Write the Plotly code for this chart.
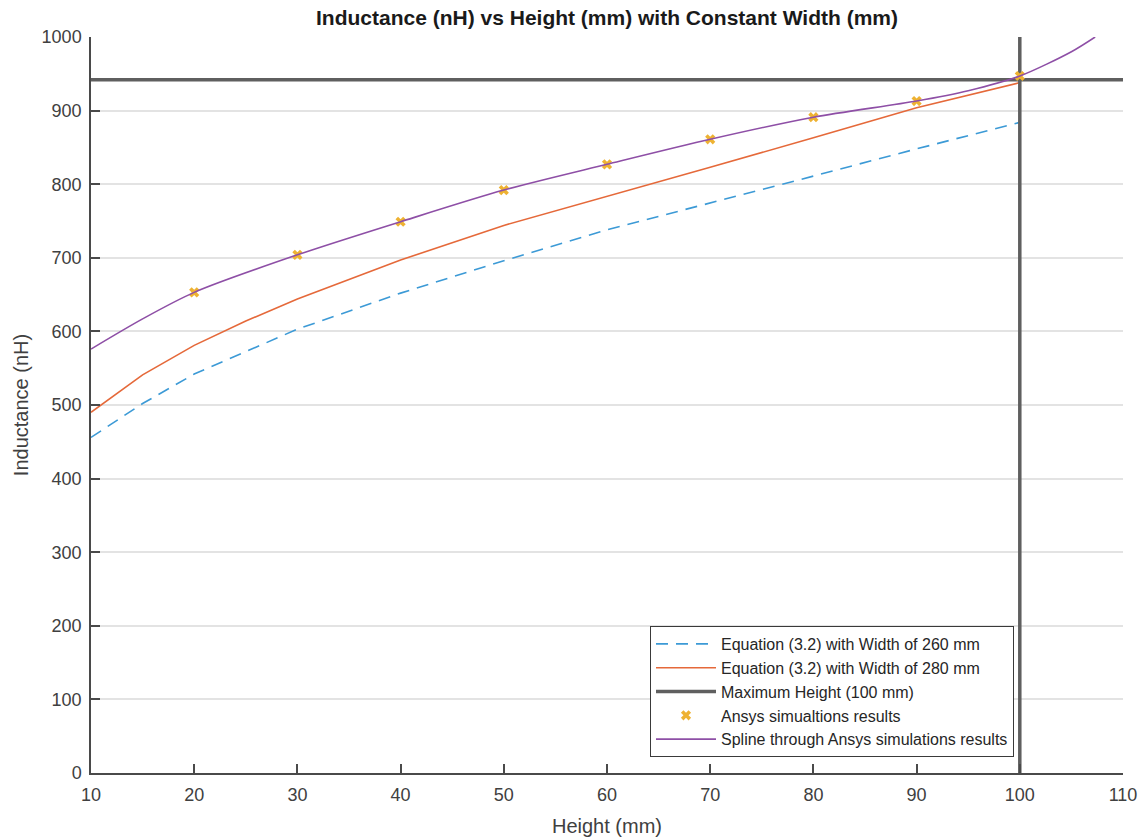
import plotly.graph_objects as go

# Height sweep used for the closed-form inductance curves (mm)
height_eq = [10, 15, 20, 25, 30, 40, 50, 60, 70, 80, 90, 100]
# Equation (3.2) inductance (nH) for two plate widths
L_w260 = [456, 502, 542, 573, 603, 652, 696, 738, 774, 811, 848, 884]
L_w280 = [490, 541, 581, 614, 644, 697, 744, 783, 823, 863, 904, 938]

# Ansys simulation results
height_sim = [20, 30, 40, 50, 60, 70, 80, 90, 100]
L_sim = [653, 704, 749, 792, 827, 861, 891, 913, 947]

# Spline evaluated through the simulation results
height_spl = [10, 15, 20, 30, 40, 50, 60, 70, 80, 90, 95, 100, 105, 107.3]
L_spl = [576, 617, 653, 704, 749, 792, 827, 861, 891, 913, 927, 947, 980, 1000]

# Design limits
max_height = 100
target_L = 942
x_limits = [10, 110]
y_limits = [0, 1000]

x_ticks = list(range(10, 111, 10))
y_ticks = list(range(0, 1001, 100))

FONT = "Liberation Sans, Arial, Helvetica, sans-serif"
AX = "#4a4a4a"

fig = go.Figure()

# Horizontal reference at the target inductance
fig.add_trace(go.Scatter(
    x=x_limits, y=[target_L, target_L], mode="lines",
    line=dict(color="#5f5f5f", width=3.5), showlegend=False, hoverinfo="skip"))

fig.add_trace(go.Scatter(
    x=height_eq, y=L_w260, mode="lines",
    name="Equation (3.2) with Width of 260 mm",
    line=dict(color="#3c9ad6", width=1.6, dash="12px,8px")))

fig.add_trace(go.Scatter(
    x=height_eq, y=L_w280, mode="lines",
    name="Equation (3.2) with Width of 280 mm",
    line=dict(color="#e5693a", width=1.6)))

fig.add_trace(go.Scatter(
    x=[max_height, max_height], y=y_limits, mode="lines",
    name="Maximum Height (100 mm)",
    line=dict(color="#5f5f5f", width=3.5)))

fig.add_trace(go.Scatter(
    x=height_sim, y=L_sim, mode="markers",
    name="Ansys simualtions results",
    marker=dict(symbol="x", size=9, color="#eeb232", line=dict(width=0))))

fig.add_trace(go.Scatter(
    x=height_spl, y=L_spl, mode="lines",
    name="Spline through Ansys simulations results",
    line=dict(color="#8e4fa6", width=1.6, shape="spline", smoothing=0.8)))

fig.update_layout(
    width=1146, height=837,
    margin=dict(l=91, r=23, t=37, b=64, autoexpand=False),
    paper_bgcolor="white", plot_bgcolor="white",
    font=dict(family=FONT, color="#404040"),
    title=dict(
        text="<b>Inductance (nH) vs Height (mm) with Constant Width (mm)</b>",
        font=dict(family=FONT, size=21, color="#1a1a1a"),
        x=0.5, xref="paper", xanchor="center",
        y=1 - 18 / 837, yref="container", yanchor="middle"),
    legend=dict(
        x=(1014 - 91) / (1123 - 91), y=(773 - 626) / (773 - 37),
        xanchor="right", yanchor="top",
        bgcolor="white", bordercolor="#3a3a3a", borderwidth=1,
        font=dict(family=FONT, size=16, color="#262626"),
        tracegroupgap=0, itemwidth=60),
    showlegend=True,
)

fig.update_xaxes(
    range=x_limits, tickvals=x_ticks, ticktext=[str(v) for v in x_ticks],
    showgrid=False, zeroline=False,
    showline=True, linecolor=AX, linewidth=1.5,
    ticks="inside", ticklen=9, tickwidth=1.5, tickcolor=AX,
    ticklabelstandoff=5,
    tickfont=dict(family=FONT, size=18, color="#404040"),
    title=dict(text="Height (mm)", font=dict(family=FONT, size=20, color="#404040"),
               standoff=19),
    automargin=False)

fig.update_yaxes(
    range=y_limits, tickvals=y_ticks, ticktext=[str(v) for v in y_ticks],
    showgrid=True, gridcolor="#e3e3e3", gridwidth=1.5, zeroline=False,
    showline=True, linecolor=AX, linewidth=1.5,
    ticks="inside", ticklen=9, tickwidth=1.5, tickcolor=AX,
    ticklabelstandoff=4,
    tickfont=dict(family=FONT, size=18, color="#404040"),
    title=dict(text="Inductance (nH)", font=dict(family=FONT, size=20, color="#404040"),
               standoff=8),
    automargin=False)

fig.write_html("out.html")
